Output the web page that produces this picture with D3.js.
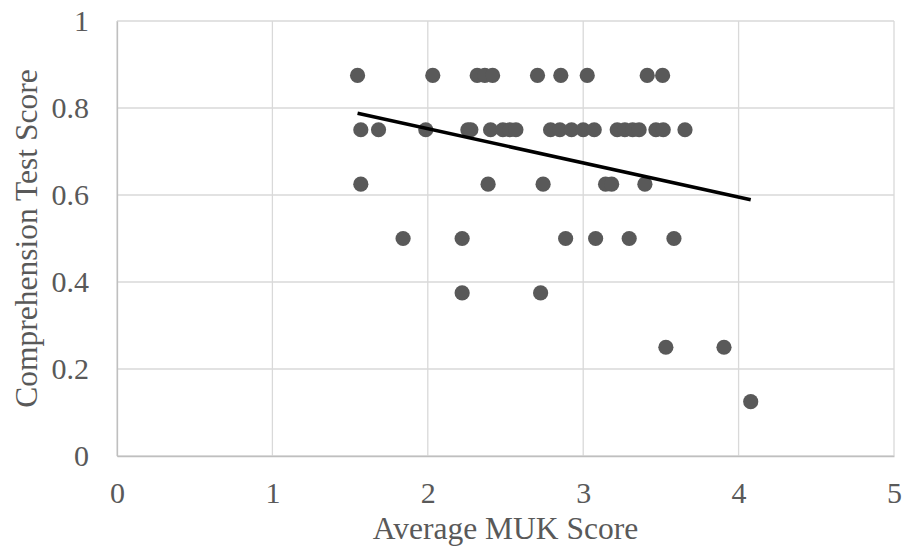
<!DOCTYPE html>
<html>
<head>
<meta charset="utf-8">
<script src="https://cdn.jsdelivr.net/npm/d3@7"></script>
<style>
  body { margin: 0; background: #fff; }
  .axis text { font-family: "Liberation Serif", "Times New Roman", serif; fill: #595959; }
</style>
</head>
<body>
<div id="graph"></div>
<script>
// average MUK score vs comprehension test score, one dot per participant
var mukScore = [
  1.548, 2.032, 2.318, 2.367, 2.417, 2.706, 2.856, 3.026, 3.412, 3.511,
  1.569, 1.683, 1.987, 2.258, 2.277, 2.404, 2.483, 2.528, 2.567, 2.790,
  2.850, 2.925, 3.000, 3.071, 3.219, 3.268, 3.318, 3.360, 3.468, 3.515, 3.655,
  1.569, 2.388, 2.742, 3.144, 3.183, 3.397,
  1.841, 2.221, 2.887, 3.080, 3.296, 3.584,
  2.221, 2.726,
  3.532, 3.906,
  4.078
];
var testScore = [
  0.875, 0.875, 0.875, 0.875, 0.875, 0.875, 0.875, 0.875, 0.875, 0.875,
  0.75, 0.75, 0.75, 0.75, 0.75, 0.75, 0.75, 0.75, 0.75, 0.75,
  0.75, 0.75, 0.75, 0.75, 0.75, 0.75, 0.75, 0.75, 0.75, 0.75, 0.75,
  0.625, 0.625, 0.625, 0.625, 0.625, 0.625,
  0.5, 0.5, 0.5, 0.5, 0.5, 0.5,
  0.375, 0.375,
  0.25, 0.25,
  0.125
];

// linear trendline as drawn (end points)
var trendX = [1.548, 4.078];
var trendY = [0.788, 0.589];

var xTicks = [0, 1, 2, 3, 4, 5];
var xTickLabels = ["0", "1", "2", "3", "4", "5"];
var yTicks = [0, 0.2, 0.4, 0.6, 0.8, 1];
var yTickLabels = ["0", "0.2", "0.4", "0.6", "0.8", "1"];

var svgWidth = 904, svgHeight = 557;
var margin = {top: 21, right: 10, bottom: 101, left: 117};

var svg = d3.select('#graph').append('svg')
  .attr("width", svgWidth)
  .attr("height", svgHeight);
var width = svgWidth - margin.left - margin.right;
var height = svgHeight - margin.top - margin.bottom;

var g = svg.append('g')
  .attr('transform', 'translate(' + margin.left + ',' + margin.top + ')');

var x = d3.scaleLinear().domain([0, 5]).range([0, width]);
var y = d3.scaleLinear().domain([0, 1]).range([height, 0]);

// gridlines
g.append("g")
  .selectAll("line")
  .data(yTicks)
  .enter().append("line")
    .attr("x1", 0).attr("x2", width)
    .attr("y1", function(d) { return y(d); })
    .attr("y2", function(d) { return y(d); })
    .attr("stroke", "#d9d9d9")
    .attr("stroke-width", 1.3);
g.append("g")
  .selectAll("line")
  .data(xTicks)
  .enter().append("line")
    .attr("y1", 0).attr("y2", height)
    .attr("x1", function(d) { return x(d); })
    .attr("x2", function(d) { return x(d); })
    .attr("stroke", "#d9d9d9")
    .attr("stroke-width", 1.3);

// axes
var xAxis = g.append("g")
  .attr("class", "axis")
  .attr("transform", "translate(0," + height + ")")
  .call(d3.axisBottom(x).tickValues(xTicks).tickSize(0).tickPadding(26)
    .tickFormat(function(d, i) { return xTickLabels[i]; }));
xAxis.select(".domain").attr("stroke", "#bfbfbf").attr("stroke-width", 1.3);
xAxis.selectAll("text").style("font-size", "30px");

var yAxis = g.append("g")
  .attr("class", "axis")
  .call(d3.axisLeft(y).tickValues(yTicks).tickSize(0).tickPadding(28)
    .tickFormat(function(d, i) { return yTickLabels[i]; }));
yAxis.select(".domain").attr("stroke", "#bfbfbf").attr("stroke-width", 1.3);
yAxis.selectAll("text").style("font-size", "30px");

// axis titles
svg.append("text")
  .attr("class", "axis")
  .attr("x", margin.left + width / 2)
  .attr("y", 539)
  .attr("text-anchor", "middle")
  .style("font-family", '"Liberation Serif", "Times New Roman", serif')
  .style("font-size", "31.5px")
  .attr("fill", "#595959")
  .text("Average MUK Score");

svg.append("text")
  .attr("transform", "translate(37," + (margin.top + height / 2) + ") rotate(-90)")
  .attr("text-anchor", "middle")
  .style("font-family", '"Liberation Serif", "Times New Roman", serif')
  .style("font-size", "31.5px")
  .attr("fill", "#595959")
  .text("Comprehension Test Score");

// dots
g.append("g")
  .selectAll("circle")
  .data(mukScore)
  .enter().append("circle")
    .attr("cx", function(d) { return x(d); })
    .attr("cy", function(d, i) { return y(testScore[i]); })
    .attr("r", 7.6)
    .attr("fill", "#595959");

// trendline
var trendLine = d3.line()
  .x(function(d) { return x(d); })
  .y(function(d, i) { return y(trendY[i]); });

g.append("path")
  .datum(trendX)
  .attr("fill", "none")
  .attr("stroke", "#000")
  .attr("stroke-width", 3.5)
  .attr("d", trendLine);
</script>
</body>
</html>
